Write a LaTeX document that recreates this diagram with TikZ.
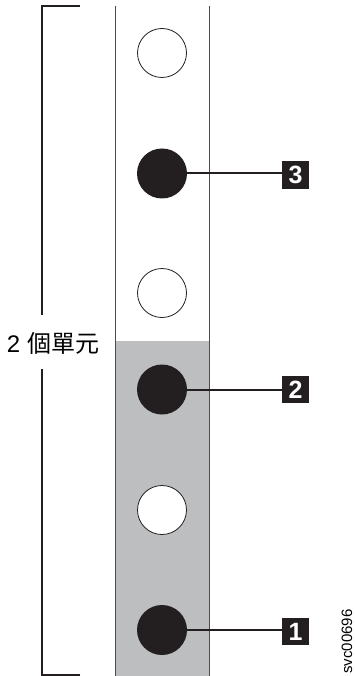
\documentclass[tikz,border=0pt]{standalone}
\usepackage{fontspec}
\setmainfont{Liberation Sans}
\newfontfamily\cjk{Noto Sans CJK TC}
\definecolor{ink}{HTML}{231F20}
\definecolor{panel}{HTML}{BCBEC0}
\tikzset{
  x=1pt,y=-1pt,
  rail/.style={draw=ink!80,line width=1pt},
  bracket/.style={draw=ink,line width=2.1pt},
  hole/.style={circle,draw=ink,line width=0.8pt,fill=white,minimum size=49pt,inner sep=0pt},
  pin/.style={circle,draw=none,fill=ink,minimum size=50pt,inner sep=0pt},
  tag/.style={rectangle,fill=ink,text=white,minimum size=27.5pt,inner sep=0pt,font=\bfseries\fontsize{25}{25}\selectfont},
  leader/.style={draw=ink,line width=2pt}
}
\begin{document}
\begin{tikzpicture}
\useasboundingbox (0,0) rectangle (354,676);
\fill[panel] (115,341) rectangle (209.5,676);
\draw[rail] (115,6) -- (115,676);
\draw[rail] (209.5,6) -- (209.5,676);
\node[hole] (h1) at (162,53) {};
\node[pin] (p3) at (162,173.5) {};
\node[hole] (h2) at (162,293) {};
\node[pin] (p2) at (162,389.5) {};
\node[hole] (h3) at (162,510) {};
\node[pin] (p1) at (162,630) {};
\node[tag] (t3) at (295.5,175) {3};
\node[tag] (t2) at (295.5,389.5) {2};
\node[tag] (t1) at (295.5,631.5) {1};
\draw[leader] (p3.east) -- (t3.west |- p3);
\draw[leader] (p2.east) -- (t2.west);
\draw[leader] (p1.east) -- (t1.west |- p1);
\coordinate (bt) at (80,6);
\coordinate (bb) at (80,675);
\node[inner sep=0pt,anchor=center] (lab) at (53,343) {\fontsize{24}{24}\selectfont 2 {\cjk 個單元}};
\draw[bracket] (bt) -- (42,6) -- (42,314.5);
\draw[bracket] (bb) -- (42,675) -- (42,369);
\node[inner sep=0pt,rotate=90,anchor=center,font=\fontsize{15}{15}\selectfont] (code) at (347,641.5) {svc00696};
\end{tikzpicture}
\end{document}
